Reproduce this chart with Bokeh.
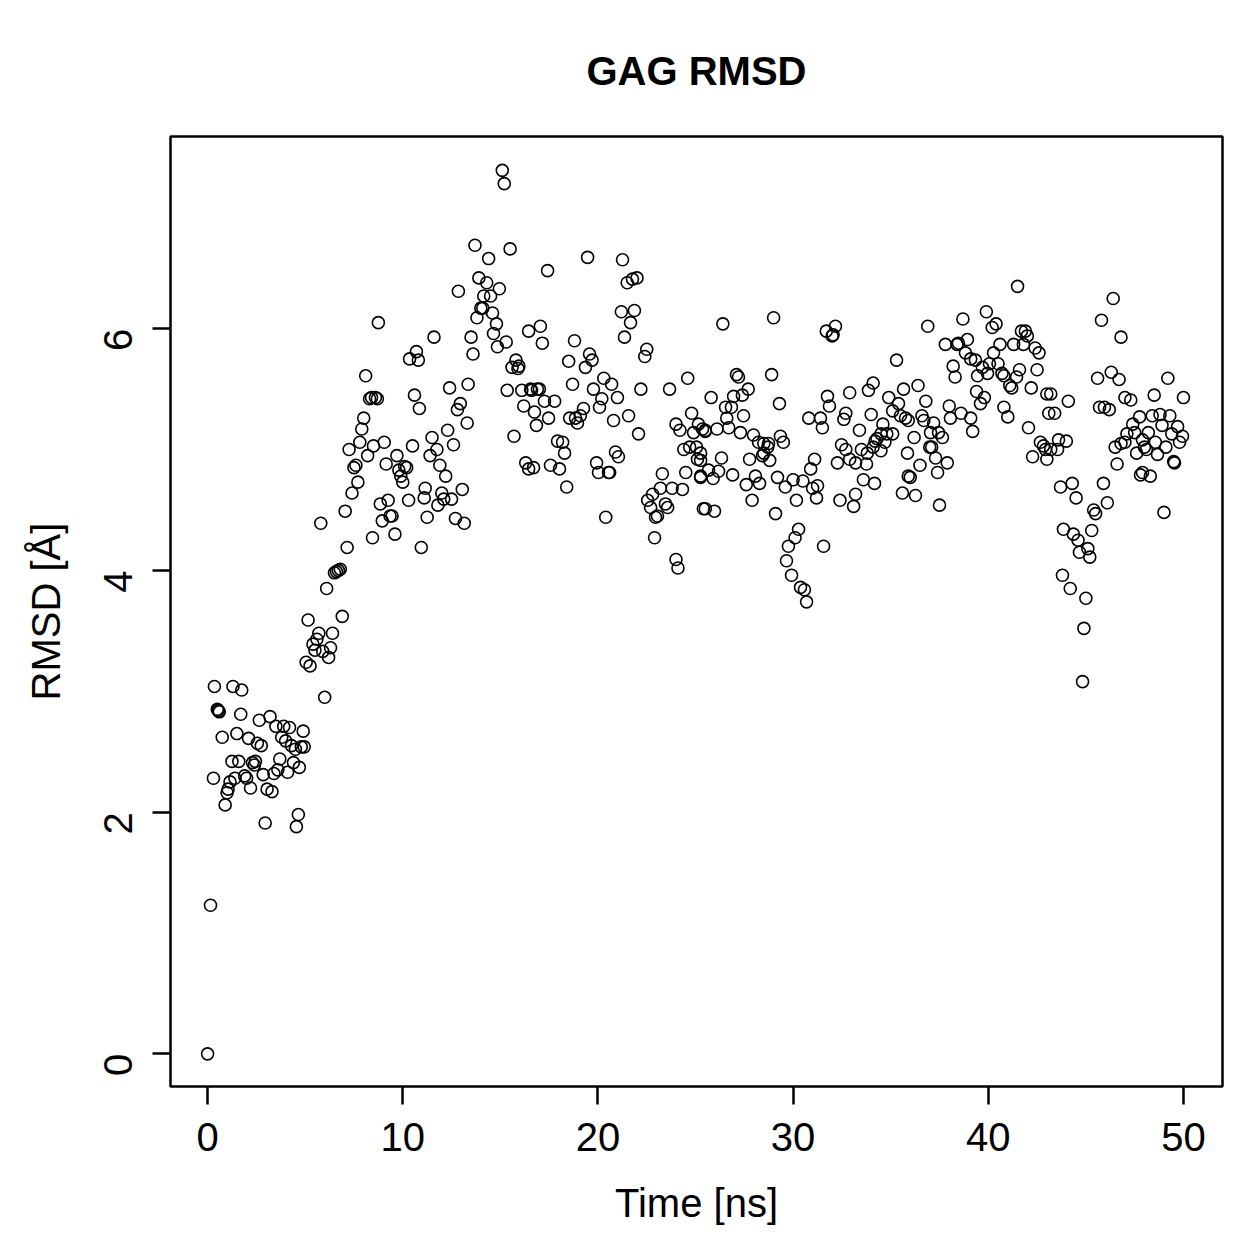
import math
from bokeh.plotting import figure
from bokeh.models import Range1d, FixedTicker, ColumnDataSource
from bokeh.embed import file_html
from bokeh.resources import INLINE

# ---- data (time in ns, RMSD in Angstrom) ----
time_a = [0.0, 0.15, 0.3, 0.35, 0.5, 0.55, 0.6, 0.75, 0.9, 1.0, 1.05, 1.15, 1.25, 1.3, 1.4, 1.5, 1.6, 1.7, 1.75,
          1.9, 2.0, 2.1, 2.2, 2.3, 2.4, 2.45, 2.55, 2.65, 2.75, 2.85, 2.95, 3.05, 3.2, 3.3, 3.4, 3.5, 3.6, 3.7,
          3.8, 3.9, 4.0, 4.1, 4.2, 4.3, 4.4, 4.5, 4.55, 4.65, 4.7, 4.8, 4.9, 4.95]
rmsd_a = [0.0, 1.23, 2.28, 3.04, 2.85, 2.84, 2.83, 2.62, 2.06, 2.16, 2.19, 2.25, 2.42, 3.04, 2.28, 2.65, 2.42, 2.81, 3.01,
          2.30, 2.28, 2.61, 2.20, 2.41, 2.39, 2.42, 2.57, 2.76, 2.55, 2.31, 1.91, 2.19, 2.79, 2.17, 2.32, 2.71, 2.35, 2.44,
          2.62, 2.71, 2.59, 2.33, 2.70, 2.55, 2.41, 2.52, 1.88, 1.98, 2.37, 2.54, 2.67, 2.54]

time_b = [5.05, 5.15, 5.25, 5.4, 5.5, 5.6, 5.7, 5.8, 5.9, 6.0, 6.1, 6.2, 6.3, 6.4, 6.5, 6.6, 6.7, 6.8, 6.9, 7.05,
          7.15, 7.25, 7.4, 7.5, 7.6, 7.7, 7.8, 7.9, 8.0, 8.1, 8.2, 8.3, 8.4, 8.45, 8.5, 8.6, 8.7, 8.75, 8.85, 8.95,
          9.05, 9.15, 9.25, 9.35, 9.45, 9.6, 9.7, 9.8, 9.9, 10.0, 10.1, 10.2]
rmsd_b = [3.24, 3.59, 3.21, 3.39, 3.34, 3.43, 3.48, 4.39, 3.33, 2.95, 3.85, 3.28, 3.36, 3.48, 3.98, 3.99, 4.0, 4.01, 3.62, 4.49,
          4.19, 5.0, 4.64, 4.85, 4.87, 4.73, 5.06, 5.17, 5.26, 5.61, 4.95, 5.42, 5.43, 4.27, 5.03, 5.43, 5.42, 6.05, 4.55, 4.41,
          5.06, 4.88, 4.58, 4.45, 4.45, 4.30, 4.95, 4.83, 4.78, 4.73, 4.86, 4.85]

time_c = [10.3, 10.35, 10.5, 10.6, 10.7, 10.8, 10.85, 10.95, 11.1, 11.15, 11.25, 11.4, 11.5, 11.6, 11.75, 11.8, 11.9,
          12.0, 12.1, 12.2, 12.3, 12.4, 12.5, 12.6, 12.7, 12.8, 12.85, 12.95, 13.05, 13.15, 13.3, 13.35, 13.5, 13.6,
          13.7, 13.8, 13.9, 14.0, 14.1, 14.15, 14.3, 14.4, 14.5, 14.6, 14.65, 14.8, 14.85, 14.95, 15.1, 15.2, 15.3,
          15.35, 15.5]
rmsd_c = [4.58, 5.75, 5.03, 5.45, 5.81, 5.74, 5.34, 4.19, 4.60, 4.68, 4.44, 4.95, 5.10, 5.93, 5.0, 4.54, 4.87,
          4.64, 4.59, 4.78, 5.16, 5.51, 4.59, 5.04, 4.43, 5.33, 6.31, 5.38, 4.67, 4.39, 5.22, 5.54, 5.93, 5.79,
          6.69, 6.09, 6.42, 6.17, 6.17, 6.27, 6.38, 6.58, 6.27, 6.13, 5.96, 6.04, 5.85, 6.33, 7.31, 7.2, 5.89,
          5.49, 6.66]

time_d = [15.6, 15.7, 15.8, 15.9, 15.95, 16.1, 16.2, 16.3, 16.45, 16.45, 16.55, 16.6, 16.7, 16.75, 16.85, 16.9, 17.0,
          17.05, 17.15, 17.26, 17.42, 17.47, 17.57, 17.78, 17.93, 18.03, 18.19, 18.29, 18.4, 18.5, 18.55, 18.7, 18.8,
          18.85, 18.95, 19.1, 19.26, 19.36, 19.47, 19.57, 19.7, 19.77, 19.93, 20.03, 20.08, 20.2, 20.3, 20.4, 20.54,
          20.6, 20.7, 20.8, 20.9, 21.0, 21.05, 21.2, 21.26, 21.36, 21.5, 21.57, 21.67, 21.77, 21.87, 22.0, 22.08,
          22.2, 22.4, 22.5, 22.55, 22.7, 22.8, 22.9, 22.95, 23.05, 23.2, 23.3, 23.46, 23.57, 23.67, 23.8, 24.0,
          24.0, 24.1, 24.2, 24.33, 24.4, 24.5, 24.6, 24.7, 24.8, 24.9, 25.05, 25.1, 25.15, 25.26, 25.36, 25.4, 25.5]
rmsd_d = [5.68, 5.11, 5.74, 5.67, 5.69, 5.49, 5.36, 4.89, 5.98, 4.84, 5.5, 5.49, 4.85, 5.31, 5.2, 5.5, 5.5,
          6.02, 5.88, 5.4, 6.48, 5.26, 4.87, 5.4, 5.07, 4.84, 5.06, 4.97, 4.69, 5.73, 5.26, 5.54, 5.9,
          5.26, 5.22, 5.28, 5.34, 5.68, 6.59, 5.79, 5.74, 5.5, 4.89, 4.81, 5.35, 5.42, 5.59, 4.44, 4.81,
          4.81, 5.54, 5.24, 4.98, 5.43, 4.94, 6.14, 6.57, 5.93, 6.38, 5.28, 6.05, 6.41, 6.15, 6.42, 5.13,
          5.5, 5.77, 5.83, 4.58, 4.52, 4.63, 4.27, 4.44, 4.45, 4.68, 4.8, 4.55, 4.52, 5.5, 4.68, 5.21,
          4.09, 4.02, 5.16, 4.67, 5.0, 4.81, 5.59, 5.02, 5.3, 5.14, 5.02, 4.92, 5.21, 4.78, 5.17, 4.51, 5.15]

time_e = [25.26, 25.26, 25.26, 25.5, 25.5, 25.67, 25.8, 25.9, 25.97, 26.1, 26.18, 26.33, 26.4, 26.54, 26.6, 26.7,
          26.84, 26.9, 26.95, 27.1, 27.2, 27.3, 27.4, 27.46, 27.6, 27.7, 27.77, 27.9, 27.97, 28.07, 28.23, 28.28,
          28.43, 28.5, 28.5, 28.7, 28.74, 28.8, 28.9, 29.0, 29.1, 29.2, 29.3, 29.35, 29.5, 29.6, 29.66, 29.76,
          29.92, 30.0, 30.1, 30.17, 30.28, 30.38, 30.5, 30.58, 30.69, 30.8, 30.9, 31.0, 31.1, 31.2, 31.25, 31.4,
          31.5, 31.56, 31.7, 31.76, 31.86, 32.0, 32.05, 32.17, 32.27, 32.4, 32.48, 32.6, 32.7, 32.7, 32.9, 32.9,
          33.1, 33.2, 33.2, 33.4, 33.5, 33.6, 33.76, 33.8, 33.86, 34.0, 34.1, 34.17, 34.2, 34.5]
rmsd_e = [4.97, 4.91, 4.77, 5.16, 4.51, 4.83, 5.43, 4.76, 4.49, 5.17, 4.82, 4.93, 6.04, 5.35, 5.26, 5.18,
          5.35, 4.79, 5.44, 5.62, 5.6, 5.14, 5.45, 5.28, 4.71, 5.5, 4.92, 4.58, 5.12, 4.78, 5.06, 4.72,
          4.95, 5.05, 4.97, 5.02, 5.05, 4.91, 5.62, 6.09, 4.47, 4.77, 5.38, 5.11, 5.06, 4.69, 4.08, 4.2,
          3.96, 4.75, 4.27, 4.58, 4.34, 3.86, 4.74, 3.84, 3.74, 5.26, 4.84, 4.68, 4.92, 4.6, 4.7, 5.26,
          5.18, 4.2, 5.98, 5.44, 5.36, 5.94, 5.95, 6.02, 4.89, 4.58, 5.04, 5.25, 5.3, 5.0, 5.47, 4.92,
          4.53, 4.89, 4.63, 5.16, 5.0, 4.75, 4.88, 4.97, 5.49, 5.29, 5.55, 4.72, 5.07, 5.13]

time_f = [34.1, 34.3, 34.5, 34.6, 34.7, 34.8, 34.9, 35.1, 35.1, 35.3, 35.4, 35.5, 35.6, 35.66, 35.76, 35.86, 35.9,
          35.9, 36.0, 36.2, 36.27, 36.4, 36.5, 36.6, 36.7, 36.8, 36.9, 37.0, 37.04, 37.1, 37.2, 37.3, 37.4, 37.45,
          37.5, 37.65, 37.8, 37.9, 38.0, 38.06, 38.2, 38.3, 38.4, 38.47, 38.6, 38.7, 38.83, 38.93, 39.1, 39.1,
          39.2, 39.34, 39.4, 39.45, 39.6, 39.7, 39.8, 39.9, 39.96, 40.06, 40.2, 40.27, 40.4, 40.5, 40.6, 40.7,
          40.8, 40.8, 41.0, 41.1, 41.2, 41.3, 41.45, 41.5, 41.6, 41.7, 41.8, 41.9, 42.0, 42.06, 42.2, 42.27,
          42.4, 42.5, 42.6, 42.67, 42.83, 42.93, 43.0, 43.0]
rmsd_f = [5.02, 5.09, 4.99, 5.21, 5.06, 5.13, 5.43, 5.32, 5.13, 5.74, 5.38, 5.28, 4.64, 5.5, 5.26, 4.97, 5.24,
          4.78, 4.77, 5.1, 4.62, 5.53, 4.87, 5.28, 5.24, 5.4, 6.02, 5.02, 5.14, 5.02, 5.22, 4.93, 4.81, 5.14,
          4.54, 5.1, 5.87, 4.89, 5.36, 5.26, 5.69, 5.6, 5.87, 5.88, 5.3, 6.08, 5.8, 5.91, 5.75, 5.26,
          5.15, 5.74, 5.48, 5.61, 5.38, 5.68, 5.43, 6.14, 5.63, 5.71, 6.01, 5.8, 6.04, 5.71, 5.87, 5.63,
          5.61, 5.35, 5.27, 5.53, 5.51, 5.87, 5.6, 6.35, 5.66, 5.98, 5.87, 5.98, 5.94, 5.18, 5.51, 4.94,
          5.84, 5.66, 5.8, 5.06, 5.03, 5.0, 5.46, 4.92]

time_g = [43.1, 43.2, 43.2, 43.4, 43.55, 43.6, 43.7, 43.8, 43.85, 44.0, 44.1, 44.2, 44.3, 44.36, 44.5, 44.6, 44.67,
          44.83, 44.9, 45.0, 45.1, 45.2, 45.3, 45.4, 45.5, 45.6, 45.7, 45.8, 45.9, 45.95, 46.1, 46.2, 46.3, 46.4,
          46.5, 46.6, 46.7, 46.8, 46.8, 47.0, 47.0, 47.1, 47.3, 47.4, 47.5, 47.6, 47.75, 47.8, 47.9, 47.9, 48.0,
          48.1, 48.2, 48.3, 48.4, 48.5, 48.56, 48.67, 48.8, 48.9, 49.0, 49.1, 49.2, 49.3, 49.4, 49.5, 49.54, 49.7,
          49.8, 49.95, 50.0]
rmsd_g = [5.3, 5.46, 5.0, 5.3, 5.0, 5.08, 4.69, 3.96, 4.34, 5.07, 5.4, 3.85, 4.72, 4.3, 4.6, 4.25, 4.15,
          3.08, 3.52, 3.77, 4.18, 4.11, 4.33, 4.5, 4.47, 5.59, 5.35, 6.07, 4.72, 5.35, 4.56, 5.33, 5.64, 6.25,
          5.02, 4.88, 5.58, 5.93, 5.05, 5.43, 5.06, 5.13, 5.41, 5.21, 5.14, 4.97, 5.27, 4.79, 5.08, 4.81, 5.02,
          5.0, 5.14, 4.78, 5.28, 5.45, 5.06, 4.96, 5.29, 5.2, 4.48, 5.02, 5.59, 5.28, 5.13, 4.9, 4.89, 5.19,
          5.06, 5.11, 5.43]

x_ticks = [0, 10, 20, 30, 40, 50]
y_ticks = [0, 2, 4, 6]

title_text = "GAG RMSD"
x_label = "Time [ns]"
y_label = "RMSD [Å]"

time_all = time_a + time_b + time_c + time_d + time_e + time_f + time_g
rmsd_all = rmsd_a + rmsd_b + rmsd_c + rmsd_d + rmsd_e + rmsd_f + rmsd_g
src = ColumnDataSource(dict(t=time_all, r=rmsd_all))

FONT = "Liberation Sans"

p = figure(width=1259, height=1259, frame_width=1052, frame_height=950,
           min_border_left=170, min_border_right=37, min_border_top=136, min_border_bottom=173,
           x_range=Range1d(-1.9, 52.0), y_range=Range1d(-0.27, 7.59),
           output_backend="svg", toolbar_location=None, title=title_text)

p.title.text_font = FONT
p.title.text_font_size = "40px"
p.title.text_font_style = "bold"
p.title.text_color = "black"
p.title.align = "center"
p.title.standoff = 87

p.xgrid.visible = False
p.ygrid.visible = False
p.outline_line_color = "black"
p.outline_line_width = 2.5
p.background_fill_color = "white"
p.border_fill_color = "white"

for ax in (p.xaxis[0], p.yaxis[0]):
    ax.axis_line_color = None
    ax.major_tick_in = 0
    ax.major_tick_out = 18
    ax.major_tick_line_width = 2.5
    ax.major_tick_line_color = "black"
    ax.minor_tick_line_color = None
    ax.major_label_text_font = FONT
    ax.major_label_text_font_size = "40px"
    ax.major_label_text_color = "black"
    ax.axis_label_text_font = FONT
    ax.axis_label_text_font_size = "40px"
    ax.axis_label_text_font_style = "normal"
    ax.axis_label_text_color = "black"

p.xaxis[0].ticker = FixedTicker(ticks=x_ticks)
p.yaxis[0].ticker = FixedTicker(ticks=y_ticks)
p.xaxis[0].axis_label = x_label
p.yaxis[0].axis_label = y_label
p.xaxis[0].major_label_standoff = 18
p.xaxis[0].axis_label_standoff = 27
p.yaxis[0].major_label_orientation = math.pi / 2
p.yaxis[0].major_label_standoff = 34
p.yaxis[0].axis_label_standoff = 20

p.scatter(x="t", y="r", source=src, marker="circle", size=12,
          fill_color=None, line_color="black", line_width=1.6)

open("out.html", "w").write(file_html(p, INLINE))
